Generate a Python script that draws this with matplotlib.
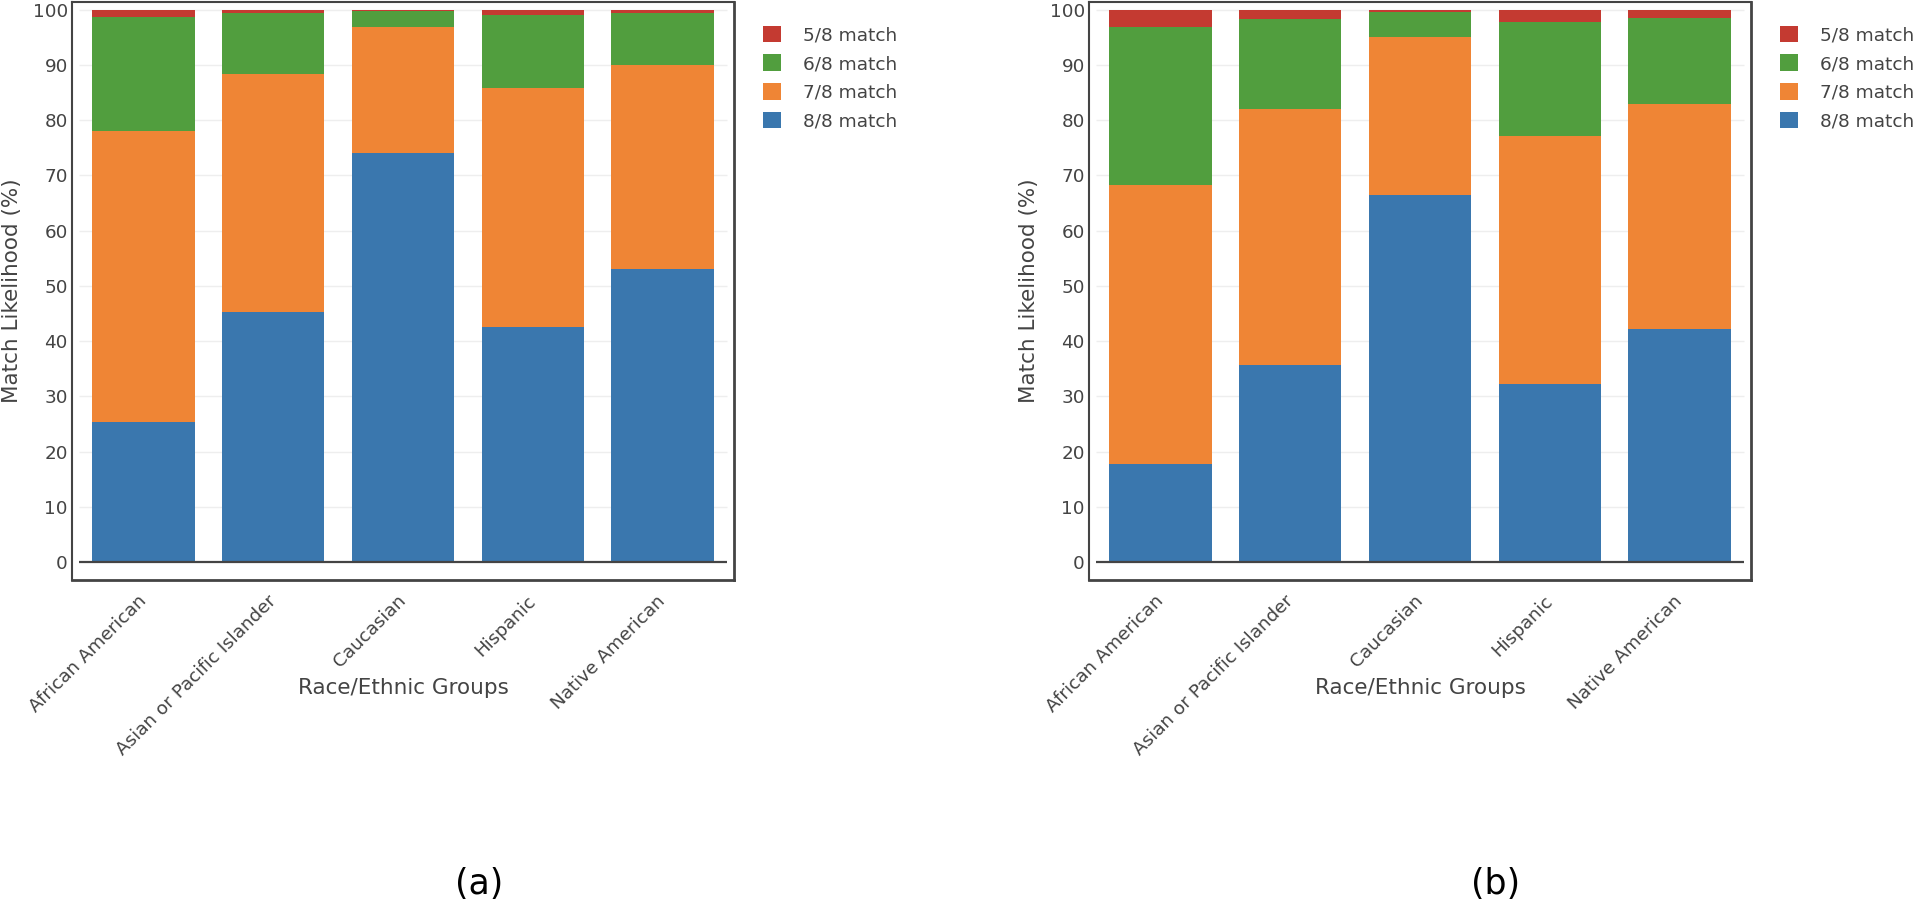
import matplotlib
matplotlib.use('Agg')
import matplotlib.pyplot as plt
from matplotlib.patches import Patch
import numpy as np

# plotly falls back to verdana-like glyphs, DejaVu Sans is the closest match
plt.rcParams['font.family'] = ['DejaVu Sans']

# groups on the x axis
groups = ['African American', 'Asian or Pacific Islander', 'Caucasian', 'Hispanic', 'Native American']

# panel (a) match likelihoods (%)
a_8of8 = [25.3, 45.2, 74.1, 42.5, 53.0]
a_7of8 = [52.8, 43.2, 22.7, 43.3, 37.0]
a_6of8 = [20.6, 11.0, 3.0, 13.2, 9.4]
a_5of8 = [1.3, 0.6, 0.2, 1.0, 0.6]

# panel (b) match likelihoods (%)
b_8of8 = [17.7, 35.7, 66.5, 32.2, 42.2]
b_7of8 = [50.6, 46.4, 28.5, 45.0, 40.8]
b_6of8 = [28.5, 16.3, 4.5, 20.6, 15.5]
b_5of8 = [3.2, 1.6, 0.5, 2.2, 1.5]

labels = ['8/8 match', '7/8 match', '6/8 match', '5/8 match']
colors = ['#3a77ae', '#ef8535', '#519e3e', '#c43a31']
yticks = [0, 10, 20, 30, 40, 50, 60, 70, 80, 90, 100]

W, H = 1920, 909
fig = plt.figure(figsize=(W / 100, H / 100), dpi=100)


def draw_panel(ax, series):
    x = np.arange(len(groups))
    bottom = np.zeros(len(groups))
    for vals, col, lab in zip(series, colors, labels):
        ax.bar(x, vals, 0.79, bottom=bottom, color=col, label=lab, zorder=2)
        bottom = bottom + np.array(vals)
    ax.hlines(yticks[1:], -0.5, len(groups) - 0.5, color='#eeeeee', lw=1, zorder=1)
    ax.hlines(0, -0.5, len(groups) - 0.5, color='#444444', lw=1.6, zorder=3)
    ax.set_xlim(-0.551, len(groups) - 1 + 0.551)
    ax.set_ylim(-3.26, 101.4)
    ax.set_yticks(yticks)
    ax.set_xticks(x)
    ax.set_xticklabels(groups, rotation=45, ha='right', va='center', rotation_mode='anchor')
    ax.tick_params(axis='both', length=0, labelsize=13.2, colors='#444444')
    ax.tick_params(axis='y', pad=3)
    ax.tick_params(axis='x', pad=13)
    for s in ax.spines.values():
        s.set_color('#444444')
        s.set_linewidth(1.5)
    ax.spines['bottom'].set_linewidth(2)
    ax.spines['right'].set_linewidth(2)
    ax.set_ylabel('Match Likelihood (%)', fontsize=15.5, color='#444444', va='center')
    ax.yaxis.set_label_coords(-0.0906, 0.5)
    ax.set_xlabel('Race/Ethnic Groups', fontsize=15.5, color='#444444', va='center')
    ax.xaxis.set_label_coords(0.5, -0.187)
    handles = [Patch(facecolor=colors[i], edgecolor='none', label=labels[i]) for i in [3, 2, 1, 0]]
    ax.legend(handles=handles, loc='upper left', bbox_to_anchor=(1.0438, 0.959), frameon=False,
              fontsize=13.3, borderpad=0, borderaxespad=0, handlelength=1.0, handleheight=1.0,
              handletextpad=1.17, labelspacing=0.55, labelcolor='#444444')


ax_a = fig.add_axes([72 / W, 1 - 580 / H, 662 / W, 578 / H])
draw_panel(ax_a, [a_8of8, a_7of8, a_6of8, a_5of8])
ax_b = fig.add_axes([1089 / W, 1 - 580 / H, 662 / W, 578 / H])
draw_panel(ax_b, [b_8of8, b_7of8, b_6of8, b_5of8])

fig.text(479 / W, 1 - 884 / H, '(a)', fontsize=25, ha='center', va='center')
fig.text(1496 / W, 1 - 884 / H, '(b)', fontsize=25, ha='center', va='center')

fig.savefig('out.png', dpi=100, facecolor='white')
